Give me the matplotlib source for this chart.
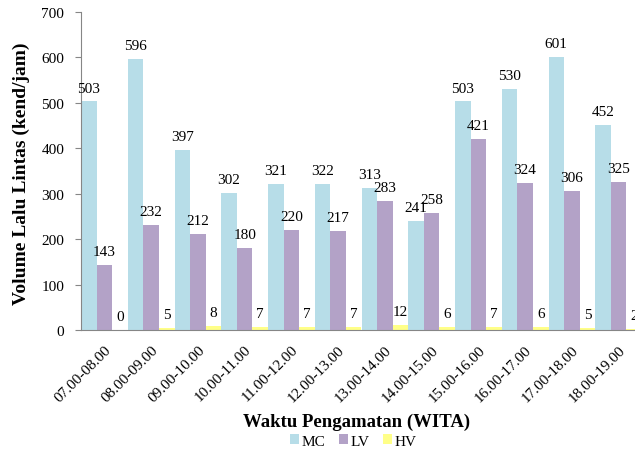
# Grafik volume lalu lintas per jam
import numpy as np
import matplotlib.pyplot as plt

# Dati
waktu = ["07.00-08.00", "08.00-09.00", "09.00-10.00", "10.00-11.00",
         "11.00-12.00", "12.00-13.00", "13.00-14.00", "14.00-15.00",
         "15.00-16.00", "16.00-17.00", "17.00-18.00", "18.00-19.00"]
mc = [503, 596, 397, 302, 321, 322, 313, 241, 503, 530, 601, 452]
lv = [143, 232, 212, 180, 220, 217, 283, 258, 421, 324, 306, 325]
hv = [0, 5, 8, 7, 7, 7, 12, 6, 7, 6, 5, 2]

plt.rcParams["font.family"] = ["Liberation Serif", "DejaVu Serif"]

fig = plt.figure(figsize=(6.35, 4.52), dpi=100)
ax = fig.add_axes([81 / 635, 1 - 331 / 452, 561 / 635, 318 / 452])

x = np.arange(len(waktu))
w = 1 / 3

b1 = ax.bar(x - w, mc, w, color="#B7DDE8", label="MC")
b2 = ax.bar(x, lv, w, color="#B3A2C7", label="LV")
b3 = ax.bar(x + w, hv, w, color="#FFFF88", label="HV")

# Etichette sui valori
for barre in (b1, b2, b3):
    ax.bar_label(barre, padding=5, fontsize=11)

ax.set_xlim(-0.5, len(waktu) - 0.5)
ax.set_ylim(0, 700)
ax.set_yticks(range(0, 701, 100))
ax.set_xticks(x)
ax.set_xticklabels(waktu, rotation=45, ha="right", rotation_mode="anchor")
ax.tick_params(axis="x", length=0, labelsize=11, pad=9)
ax.tick_params(axis="y", length=4, color="#868686", labelsize=11, pad=8)

for s in ["top", "right"]:
    ax.spines[s].set_visible(False)
ax.spines["left"].set_color("#868686")
ax.spines["bottom"].set_color("#868686")

fig.text(21 / 635, 1 - 174 / 452, "Volume Lalu Lintas (kend/jam)", fontsize=14,
         fontweight="bold", rotation=90, ha="center", va="center")
fig.text(357 / 635, 1 - 422 / 452, "Waktu Pengamatan (WITA)", fontsize=13.5,
         fontweight="bold", ha="center", va="center")

fig.legend(handles=[b1, b2, b3], loc="center", bbox_to_anchor=(353 / 635, 1 - 442 / 452),
           ncol=3, frameon=False, fontsize=11, handlelength=0.6, handleheight=0.6,
           handletextpad=0.15, columnspacing=0.9)

plt.savefig("out.png", dpi=100)
